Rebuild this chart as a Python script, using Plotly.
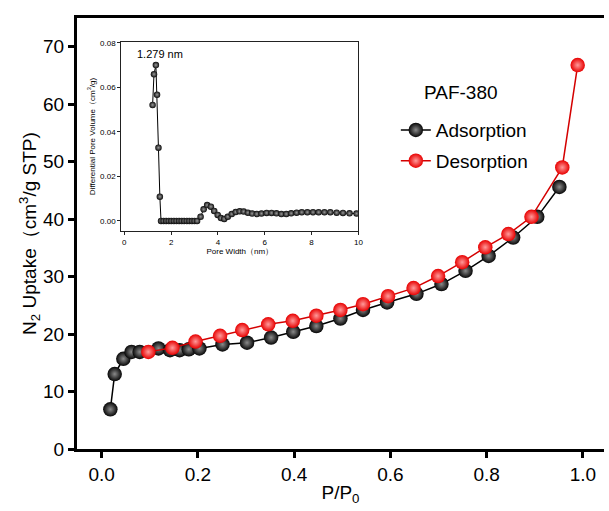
import plotly.graph_objects as go

# ---- main isotherm data ----
ads_p = [0.018, 0.027, 0.045, 0.062, 0.079, 0.118, 0.142, 0.162, 0.181, 0.203, 0.251, 0.302,
         0.352, 0.398, 0.446, 0.496, 0.543, 0.593, 0.654, 0.706, 0.756, 0.804, 0.855, 0.905, 0.951]
ads_v = [6.9, 13.05, 15.7, 16.9, 16.9, 17.5, 17.2, 17.2, 17.35, 17.5, 18.2, 18.5,
         19.4, 20.4, 21.4, 22.7, 24.2, 25.5, 27.0, 28.7, 31.0, 33.6, 36.8, 40.4, 45.6]
des_p = [0.097, 0.147, 0.195, 0.246, 0.292, 0.346, 0.397, 0.446, 0.496, 0.543, 0.595, 0.648,
         0.699, 0.749, 0.797, 0.845, 0.893, 0.957, 0.989]
des_v = [16.9, 17.6, 18.7, 19.7, 20.7, 21.7, 22.3, 23.2, 24.2, 25.2, 26.6, 28.0,
         30.1, 32.5, 35.1, 37.4, 40.4, 49.0, 66.8]

# ---- inset pore size distribution ----
pore_w = [1.21, 1.27, 1.35, 1.40, 1.46, 1.52, 1.57, 1.68, 1.79, 1.90, 2.01, 2.12, 2.23, 2.34,
          2.45, 2.56, 2.67, 2.78, 2.89, 3.00, 3.11, 3.26, 3.39, 3.54, 3.70, 3.84, 3.99, 4.13,
          4.27, 4.42, 4.59, 4.76, 4.93, 5.10, 5.28, 5.46, 5.66, 5.86, 6.08, 6.29, 6.50, 6.71,
          6.92, 7.13, 7.36, 7.58, 7.82, 8.06, 8.30, 8.55, 8.80, 9.07, 9.34, 9.62, 9.92]
pore_v = [0.0521, 0.0659, 0.0700, 0.0567, 0.0329, 0.0109, 0.0, 0.0, 0.0, 0.0, 0.0, 0.0, 0.0, 0.0,
          0.0, 0.0, 0.0, 0.0, 0.0, 0.0, 0.0, 0.0019, 0.0052, 0.0071, 0.0064, 0.0045, 0.0027, 0.0013,
          0.0009, 0.0019, 0.0031, 0.0040, 0.0043, 0.0042, 0.0037, 0.0033, 0.0031, 0.0033, 0.0036,
          0.0036, 0.0034, 0.0031, 0.0031, 0.0034, 0.0037, 0.0039, 0.0039, 0.0039, 0.0039, 0.0039,
          0.0039, 0.0037, 0.0036, 0.0034, 0.0033]

x_ticks = [0.0, 0.2, 0.4, 0.6, 0.8, 1.0]
y_ticks = [0, 10, 20, 30, 40, 50, 60, 70]
ix_ticks = [0, 2, 4, 6, 8, 10]
iy_ticks = [0.0, 0.02, 0.04, 0.06, 0.08]

FONT = "Liberation Sans, Arial, sans-serif"

fig = go.Figure()

fig.add_trace(go.Scatter(
    x=ads_p, y=ads_v, mode="lines+markers", name="Adsorption",
    line=dict(color="#000000", width=1.5),
    marker=dict(size=14.5, color="#050505", line=dict(width=0),
                gradient=dict(type="radial", color="#8a8a8a")),
    legendgroup="a", xaxis="x", yaxis="y"))
fig.add_trace(go.Scatter(
    x=des_p, y=des_v, mode="lines+markers", name="Desorption",
    line=dict(color="#d40000", width=1.5),
    marker=dict(size=14.5, color="#e80000", line=dict(width=0),
                gradient=dict(type="radial", color="#ff9a9a")),
    legendgroup="b", xaxis="x", yaxis="y"))

fig.add_trace(go.Scatter(
    x=pore_w, y=pore_v, mode="lines+markers", showlegend=False,
    line=dict(color="#000000", width=1),
    marker=dict(size=6.5, color="#0a0a0a", line=dict(width=0),
                gradient=dict(type="radial", color="#9a9a9a")),
    xaxis="x2", yaxis="y2"))

fig.update_layout(
    width=609, height=511,
    margin=dict(l=77, r=0, t=18, b=62),
    paper_bgcolor="white", plot_bgcolor="white",
    font=dict(family=FONT, color="black", size=19),
    showlegend=True,
    legend=dict(x=0.605, y=0.784, xanchor="left", yanchor="top",
                font=dict(size=19, family=FONT), bgcolor="rgba(0,0,0,0)",
                traceorder="grouped", tracegroupgap=3),
    xaxis=dict(range=[-0.0513, 1.0437], tickvals=x_ticks, tickformat=".1f",
               showline=True, linecolor="black", linewidth=3, mirror=True,
               ticks="outside", ticklen=6, tickwidth=2.5, tickcolor="black",
               showgrid=False, zeroline=False,
               tickfont=dict(size=19, family=FONT),
               title=dict(text="P/P<sub>0</sub>", font=dict(size=19, family=FONT), standoff=2)),
    yaxis=dict(range=[0, 75], tickvals=y_ticks,
               showline=True, linecolor="black", linewidth=3, mirror=False,
               ticks="outside", ticklen=6, tickwidth=2.5, tickcolor="black",
               showgrid=False, zeroline=False,
               tickfont=dict(size=19, family=FONT),
               title=dict(text="N<sub>2</sub> Uptake（cm<sup>3</sup>/g STP)",
                          font=dict(size=19, family=FONT), standoff=2)),
    xaxis2=dict(domain=[0.0839, 0.534], anchor="y2", range=[-0.13, 10], tickvals=ix_ticks,
                showline=True, linecolor="#222222", linewidth=1, mirror=True,
                ticks="outside", ticklen=3, tickwidth=1, tickcolor="#222222",
                showgrid=False, zeroline=False,
                tickfont=dict(size=8, family=FONT, color="black"),
                title=dict(text="Pore Width（nm）", font=dict(size=8, family=FONT), standoff=2)),
    yaxis2=dict(domain=[0.506, 0.944], anchor="x2", range=[-0.0045, 0.0803],
                tickvals=iy_ticks, tickformat=".2f",
                showline=True, linecolor="#222222", linewidth=1, mirror=True,
                ticks="outside", ticklen=3, tickwidth=1, tickcolor="#222222",
                showgrid=False, zeroline=False,
                tickfont=dict(size=8, family=FONT, color="black"),
                title=dict(text="Differential Pore Volume（cm<sup>3</sup>/g)",
                           font=dict(size=8, family=FONT), standoff=3)),
    annotations=[
        dict(text="PAF-380", xref="paper", yref="paper", x=0.728, y=0.826,
             xanchor="center", yanchor="middle", showarrow=False,
             font=dict(size=19, family=FONT)),
        dict(text="1.279 nm", xref="x2", yref="y2", x=1.53, y=0.075,
             xanchor="center", yanchor="middle", showarrow=False,
             font=dict(size=11, family=FONT)),
    ],
)

fig.write_html(
    "out.html",
    config={"displayModeBar": False},
    post_script="document.body.style.margin='0';document.body.style.overflow='hidden';",
)
